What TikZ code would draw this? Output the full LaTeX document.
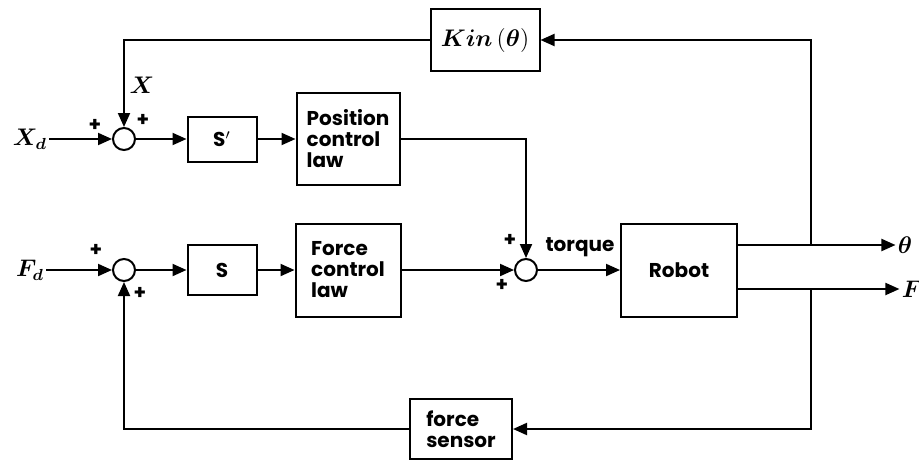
\documentclass[tikz,border=0pt]{standalone}
\usepackage{amsmath}
\usepackage{amssymb}
\usepackage{fontspec}
\setsansfont{Poppins}
\usetikzlibrary{arrows.meta}

\tikzset{
  blk/.style={draw,line width=1pt,font=\sffamily\bfseries\fontsize{10}{10.5}\selectfont,
    align=left,inner sep=2pt},
  sumpt/.style={draw,circle,line width=1pt,minimum size=11pt,inner sep=0pt},
  sgn/.style={font=\sffamily\bfseries\fontsize{10}{10}\selectfont,inner sep=0pt},
  sig/.style={font=\fontsize{12}{12}\selectfont,inner sep=1pt},
  line/.style={line width=1pt},
  flow/.style={line width=1pt,-{Triangle[length=7pt,width=6pt]}}
}

\begin{document}
\begin{tikzpicture}[x=0.5pt,y=-0.5pt]
  \useasboundingbox (0,0) rectangle (919,461);
  % blocks
  \node[blk,minimum width=54.5pt,minimum height=31pt,align=center,
    font=\fontsize{13}{13}\selectfont] (kin) at (485,40)
    {$\boldsymbol{Kin}\,(\boldsymbol{\theta})$};
  \node[blk,minimum width=34.5pt,minimum height=22.5pt,align=center] (sp) at (222,139) {S$'$};
  \node[blk,minimum width=51.5pt,minimum height=46pt] (pcl) at (348,139) {Position\\control\\law};
  \node[blk,minimum width=34.5pt,minimum height=25pt,align=center] (s) at (222,270) {S};
  \node[blk,minimum width=52.5pt,minimum height=46.5pt] (fcl) at (348,270) {Force\\control\\law};
  \node[blk,minimum width=58pt,minimum height=46.5pt,align=center] (robot) at (679,270) {Robot};
  \node[blk,minimum width=51pt,minimum height=30pt] (fs) at (461,429) {force\\sensor};
  % summing points
  \node[sumpt] (sum1) at (124,139) {};
  \node[sumpt] (sum2) at (124,270) {};
  \node[sumpt] (sum3) at (526,270) {};
  % signals
  \node[sig] (xd) at (30,139) {$\boldsymbol{X_d}$};
  \node[sig] (fd) at (30,270) {$\boldsymbol{F_d}$};
  \node[sig] at (142,85) {$\boldsymbol{X}$};
  \node[sig] (th) at (905,245) {$\boldsymbol{\theta}$};
  \node[sig] (f) at (912,289) {$\boldsymbol{F}$};
  \node[sgn] at (580,247) {torque};
  % signs
  \node[sgn] at (95,125) {+};
  \node[sgn] at (143,120) {+};
  \node[sgn] at (96,250) {+};
  \node[sgn] at (140,293) {+};
  \node[sgn] at (510,240) {+};
  \node[sgn] at (502,285) {+};
  % taps on the outputs
  \coordinate (tt) at (811,245);
  \coordinate (tf) at (811,289);
  % forward paths
  \draw[flow] (xd.east) -- (sum1.west);
  \draw[flow] (sum1.east) -- (sp.west);
  \draw[flow] (sp.east) -- (pcl.west);
  \draw[flow] (pcl.east) -| (sum3.north);
  \draw[flow] (fd.east) -- (sum2.west);
  \draw[flow] (sum2.east) -- (s.west);
  \draw[flow] (s.east) -- (fcl.west);
  \draw[flow] (fcl.east) -- (sum3.west);
  \draw[flow] (sum3.east) -- (robot.west);
  \draw[flow] (robot.east |- th) -- (th.west);
  \draw[flow] (robot.east |- f) -- (f.west);
  % feedback paths
  \draw[flow] (tt) |- (kin.east);
  \draw[flow] (kin.west) -| (sum1.north);
  \draw[flow] (tf) |- (fs.east);
  \draw[flow] (fs.west) -| (sum2.south);
\end{tikzpicture}
\end{document}
